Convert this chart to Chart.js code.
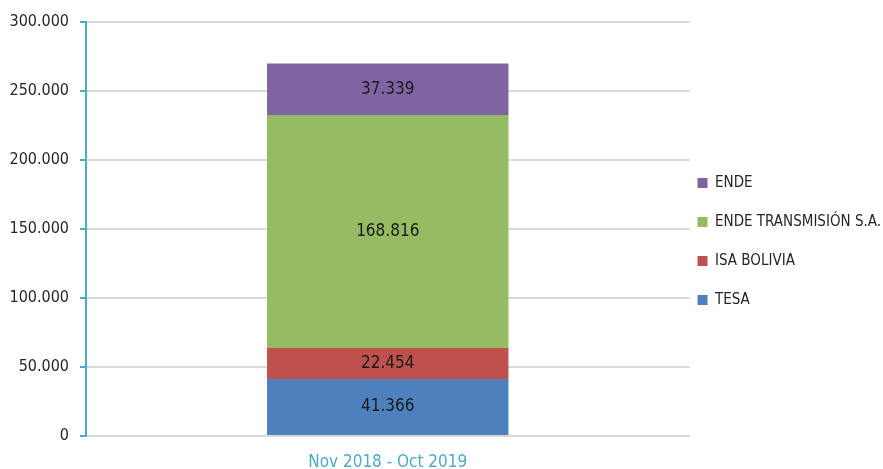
<!DOCTYPE html>
<html>
<head>
<meta charset="utf-8">
<script src="https://cdn.jsdelivr.net/npm/chart.js@4/dist/chart.umd.min.js"></script>
<style>
  html, body { margin: 0; padding: 0; background: #fff; }
  #wrap { width: 883px; height: 469px; }
</style>
</head>
<body>
<div id="wrap"><canvas id="chart" width="883" height="469"></canvas></div>
<script>
// data
const categories = ['Nov 2018 - Oct 2019'];
const seriesNames = ['TESA', 'ISA BOLIVIA', 'ENDE TRANSMISIÓN S.A.', 'ENDE'];
const tesa = [41366];
const isaBolivia = [22454];
const endeTransmision = [168816];
const ende = [37339];
const yTicks = [0, 50000, 100000, 150000, 200000, 250000, 300000];

const colors = ['#4e80bd', '#c0504d', '#95bb63', '#8064a2'];
const FONT = '"Liberation Sans Narrow", "DejaVu Sans Condensed", "Liberation Sans", sans-serif';

function fmt(n) {
  return String(n).replace(/\B(?=(\d{3})+(?!\d))/g, '.');
}

// values printed in the middle of each segment
const segmentLabels = {
  id: 'segmentLabels',
  afterDatasetsDraw(chart) {
    const ctx = chart.ctx;
    ctx.save();
    ctx.font = '17px ' + FONT;
    ctx.fillStyle = '#1a1a1a';
    ctx.textAlign = 'center';
    ctx.textBaseline = 'middle';
    chart.data.datasets.forEach((ds, i) => {
      chart.getDatasetMeta(i).data.forEach((bar, j) => {
        ctx.fillText(fmt(ds.data[j]), bar.x, (bar.y + bar.base) / 2);
      });
    });
    ctx.restore();
  }
};

// pull the legend closer to the plot (labels.padding also sets row spacing)
const legendNudge = {
  id: 'legendNudge',
  afterLayout(chart) {
    const lg = chart.legend;
    if (!lg) return;
    lg.left -= 16; lg.right -= 16;
    lg.top -= 4; lg.bottom -= 4;
  }
};

const allSeries = [tesa, isaBolivia, endeTransmision, ende];

new Chart(document.getElementById('chart'), {
  type: 'bar',
  data: {
    labels: categories,
    datasets: allSeries.map((d, i) => ({
      label: seriesNames[i],
      data: d,
      backgroundColor: colors[i],
      borderWidth: 0,
      barPercentage: 0.4,
      categoryPercentage: 1
    }))
  },
  options: {
    responsive: false,
    animation: false,
    layout: { padding: { left: 0, top: 22, right: -24, bottom: 0 } },
    scales: {
      x: {
        stacked: true,
        grid: { display: false, drawTicks: false },
        border: { display: true, color: '#d9d9d9', width: 2 },
        ticks: { color: '#4bacc6', padding: 16, font: { family: FONT, size: 17 } },
        afterFit(scale) { scale.height = 33; }
      },
      y: {
        stacked: true,
        min: 0, max: 300000,
        afterBuildTicks(axis) { axis.ticks = yTicks.map(v => ({ value: v })); },
        grid: { color: '#d9d9d9', lineWidth: 2, tickColor: '#4bacc6', tickLength: 6 },
        border: { display: true, color: '#4bacc6', width: 2 },
        ticks: { color: '#262626', padding: 11, font: { family: FONT, size: 16 }, callback: v => fmt(v) },
        afterFit(scale) { scale.width = 86; }
      }
    },
    plugins: {
      legend: {
        position: 'right',
        reverse: true,
        labels: {
          boxWidth: 10, boxHeight: 10, padding: 24,
          color: '#262626',
          font: { family: FONT, size: 15 }
        }
      },
      tooltip: { enabled: false }
    }
  },
  plugins: [segmentLabels, legendNudge]
});
</script>
</body>
</html>
